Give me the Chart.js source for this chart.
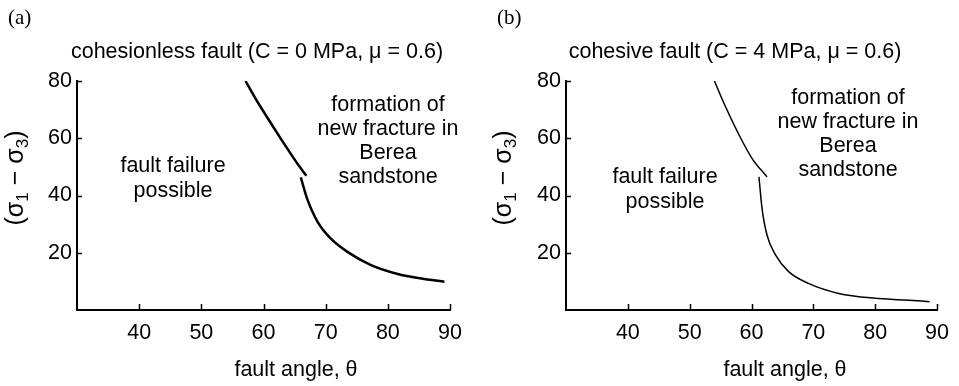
<!DOCTYPE html>
<html>
<head>
<meta charset="utf-8">
<script src="https://cdn.jsdelivr.net/npm/chart.js@4.4.1/dist/chart.umd.min.js"></script>
<style>
  html, body { margin: 0; padding: 0; background: #fff; }
  #wrap { position: relative; width: 959px; height: 386px; }
  canvas { position: absolute; top: 0; }
</style>
</head>
<body>
<div id="wrap">
  <canvas id="chartA" width="479" height="386" style="left:0px"></canvas>
  <canvas id="chartB" width="480" height="386" style="left:479px"></canvas>
</div>
<script>
// tick labels
const xTicks = [40, 50, 60, 70, 80, 90];
const yTicks = [20, 40, 60, 80];

// (a) cohesionless fault - upper branch and lower branch
const angleA1  = [57.1, 58.6, 60.1, 61.5, 62.8, 64.1, 65.5, 66.9];
const stressA1 = [80.0, 74.3, 69.0, 64.2, 59.8, 55.5, 51.0, 46.9];
const angleA2  = [66.0, 67.0, 68.7, 70.8, 73.5, 77.3, 81.6, 85.9, 89.1];
const stressA2 = [46.3, 39.0, 30.8, 25.0, 20.3, 15.7, 12.6, 10.8, 9.9];

// (b) cohesive fault
const angleB1  = [54.0, 55.8, 58.0, 60.1, 62.5];
const stressB1 = [80.0, 71.0, 61.1, 52.9, 46.5];
const angleB2  = [61.2, 61.7, 62.5, 63.9, 66.0, 69.2, 74.1, 80.0, 84.8, 88.8];
const stressB2 = [46.5, 35.5, 26.2, 19.2, 13.4, 9.3, 5.8, 4.1, 3.5, 2.9];

const SANS = "'Liberation Sans', Arial, sans-serif";
const SERIF = "'Liberation Serif', 'Times New Roman', serif";

function toPoints(xs, ys) {
  return xs.map((x, i) => ({ x: x, y: ys[i] }));
}

// draws inward ticks and all the text of one panel
function panelPlugin(txt) {
  return {
    id: 'panelText',
    afterDraw(chart) {
      const ctx = chart.ctx;
      const xs = chart.scales.x, ys = chart.scales.y;
      const area = chart.chartArea;
      ctx.save();
      ctx.strokeStyle = '#000';
      ctx.lineWidth = 1.5;
      ctx.beginPath();
      xTicks.forEach(v => {
        const px = Math.round(xs.getPixelForValue(v)) + 0.5;
        ctx.moveTo(px, area.bottom);
        ctx.lineTo(px, area.bottom - 6);
      });
      yTicks.forEach(v => {
        const py = Math.round(ys.getPixelForValue(v)) + 0.5;
        ctx.moveTo(area.left, py);
        ctx.lineTo(area.left + 5, py);
      });
      ctx.stroke();

      ctx.fillStyle = '#000';
      ctx.textAlign = 'left';
      ctx.textBaseline = 'middle';
      // panel label
      ctx.font = '21px ' + SERIF;
      ctx.fillText(txt.label, txt.labelX, 18);

      ctx.textAlign = 'center';
      ctx.font = '21.5px ' + SANS;
      ctx.fillText(txt.title, txt.titleX, 52);

      ctx.font = '21.5px ' + SANS;
      txt.left.forEach((s, i) => ctx.fillText(s, txt.leftX, txt.leftY + i * 25));
      txt.right.forEach((s, i) => ctx.fillText(s, txt.rightX, txt.rightY + i * 24));

      ctx.font = '21.5px ' + SANS;
      ctx.fillText('fault angle, \u03b8', txt.xTitleX, 370);

      // y title (σ1 − σ3) with subscripts, rotated
      ctx.translate(txt.yTitleX, 178);
      ctx.rotate(-Math.PI / 2);
      const big = '25px ' + SANS, small = '17px ' + SANS;
      const parts = [['(\u03c3', big, 0], ['1', small, 7], [' \u2212 \u03c3', big, 0], ['3', small, 7], [')', big, 0]];
      let w = 0;
      parts.forEach(p => { ctx.font = p[1]; w += ctx.measureText(p[0]).width; });
      let cx = -w / 2;
      ctx.textAlign = 'left';
      parts.forEach(p => {
        ctx.font = p[1];
        ctx.fillText(p[0], cx, p[2]);
        cx += ctx.measureText(p[0]).width;
      });
      ctx.restore();
    }
  };
}

function makePanel(id, sets, lineW, leftW, rightPad, txt) {
  const ctx = document.getElementById(id).getContext('2d');
  return new Chart(ctx, {
    type: 'scatter',
    data: {
      datasets: sets.map(s => ({
        data: toPoints(s[0], s[1]),
        showLine: true,
        borderColor: '#000',
        borderWidth: lineW,
        pointRadius: 0,
        cubicInterpolationMode: 'monotone'
      }))
    },
    options: {
      responsive: false,
      animation: false,
      events: [],
      layout: { padding: { top: 81, right: rightPad, left: 0, bottom: 0 } },
      plugins: { legend: { display: false }, tooltip: { enabled: false } },
      scales: {
        x: {
          type: 'linear', min: 30, max: 90,
          afterBuildTicks: s => { s.ticks = xTicks.map(v => ({ value: v })); },
          afterFit: s => { s.height = 76; },
          grid: { display: false, drawTicks: false },
          border: { display: true, color: '#000', width: 2 },
          ticks: { color: '#000', font: { family: SANS, size: 21.5 }, padding: 10, maxRotation: 0 }
        },
        y: {
          type: 'linear', min: 0, max: 80,
          afterBuildTicks: s => { s.ticks = yTicks.map(v => ({ value: v })); },
          afterFit: s => { s.width = leftW; },
          grid: { display: false, drawTicks: false },
          border: { display: true, color: '#000', width: 2 },
          ticks: { color: '#000', font: { family: SANS, size: 21.5 }, padding: 5 }
        }
      }
    },
    plugins: [panelPlugin(txt)]
  });
}

makePanel('chartA', [[angleA1, stressA1], [angleA2, stressA2]], 2.5, 77, 29, {
  label: '(a)', labelX: 8,
  title: 'cohesionless fault (C = 0 MPa, \u03bc = 0.6)', titleX: 257,
  left: ['fault failure', 'possible'], leftX: 173, leftY: 166,
  right: ['formation of', 'new fracture in', 'Berea', 'sandstone'], rightX: 388, rightY: 105,
  xTitleX: 296, yTitleX: 16
});

makePanel('chartB', [[angleB1, stressB1], [angleB2, stressB2]], 1.5, 87, 20, {
  label: '(b)', labelX: 18,
  title: 'cohesive fault (C = 4 MPa, \u03bc = 0.6)', titleX: 256,
  left: ['fault failure', 'possible'], leftX: 186, leftY: 177,
  right: ['formation of', 'new fracture in', 'Berea', 'sandstone'], rightX: 369, rightY: 98,
  xTitleX: 306, yTitleX: 25
});
</script>
</body>
</html>
